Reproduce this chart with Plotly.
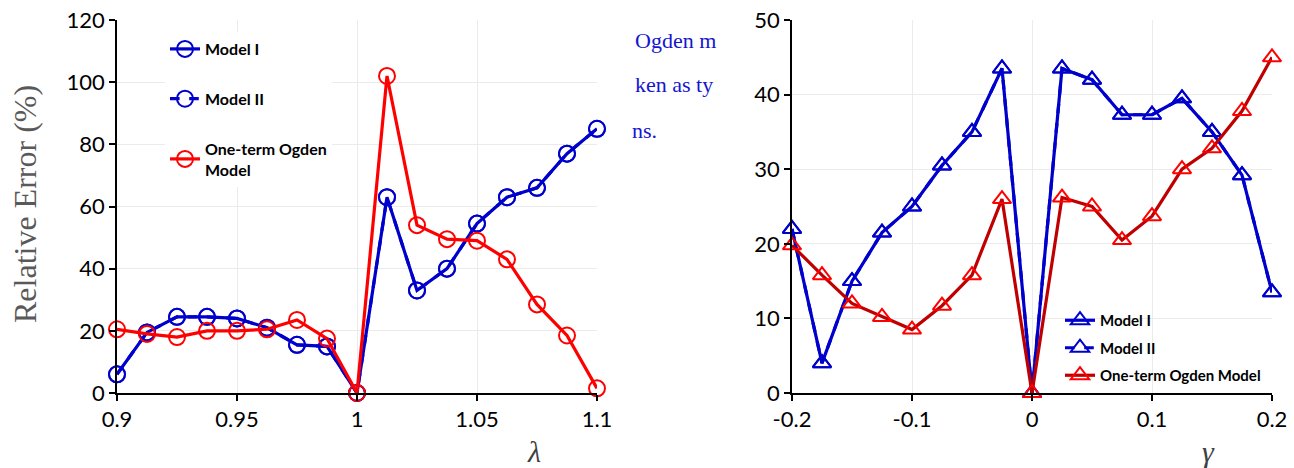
import plotly.graph_objects as go

# stretch ratio (left panel)
lam = [0.9, 0.9125, 0.925, 0.9375, 0.95, 0.9625, 0.975, 0.9875, 1.0,
       1.0125, 1.025, 1.0375, 1.05, 1.0625, 1.075, 1.0875, 1.1]
lam_model1 = [6, 19.5, 24.5, 24.5, 24, 21, 15.5, 15, 0,
              63, 33, 40, 54.5, 63, 66, 77, 85]
lam_model2 = [6, 19.5, 24.5, 24.5, 24, 21, 15.5, 15, 0,
              63, 33, 40, 54.5, 63, 66, 77, 85]
lam_ogden = [20.5, 19, 18, 20, 20, 20.5, 23.5, 17.5, 0,
             102, 54, 49.5, 49, 43, 28.5, 18.5, 1.5]

# shear amount (right panel)
gam = [-0.2, -0.175, -0.15, -0.125, -0.1, -0.075, -0.05, -0.025, 0.0,
       0.025, 0.05, 0.075, 0.1, 0.125, 0.15, 0.175, 0.2]
gam_model1 = [22, 4, 15, 21.5, 25, 30.5, 35, 43.5, 0,
              43.5, 42, 37.3, 37.3, 39.5, 35, 29.2, 13.5]
gam_model2 = [22, 4, 15, 21.5, 25, 30.5, 35, 43.5, 0,
              43.5, 42, 37.3, 37.3, 39.5, 35, 29.2, 13.5]
gam_ogden = [19.8, 15.8, 12, 10.2, 8.5, 11.7, 15.8, 26, 0,
             26.2, 25, 20.5, 23.7, 30, 32.8, 37.8, 45]

lam_ticks = [0.9, 0.95, 1, 1.05, 1.1]
lam_ticklabels = ["0.9", "0.95", "1", "1.05", "1.1"]
gam_ticks = [-0.2, -0.1, 0, 0.1, 0.2]
gam_ticklabels = ["-0.2", "-0.1", "0", "0.1", "0.2"]

BLUE = "#0000CC"
RED = "#FF0000"
DARKRED = "#C00000"
W, H = 1294, 468
ML, MR, MT, MB = 0, 0, 20, 75

fig = go.Figure()

def add(x, y, name, line_color, marker_color, symbol, dash, xa, ya, legend, rank, size):
    fig.add_trace(go.Scatter(
        x=x, y=y, name=name, mode="lines+markers",
        line=dict(color=line_color, width=3.2, dash=dash),
        marker=dict(symbol=symbol, size=size, color=marker_color,
                    line=dict(color=marker_color, width=2)),
        xaxis=xa, yaxis=ya, legend=legend, legendrank=rank,
        legendgroup=legend + name, cliponaxis=False,
    ))

# left panel
add(lam, lam_model2, "Model II", BLUE, BLUE, "circle-open", "dash", "x", "y", "legend", 2, 16)
add(lam, lam_model1, "Model I", BLUE, BLUE, "circle-open", "solid", "x", "y", "legend", 1, 16)
add(lam, lam_ogden, "One-term Ogden<br>Model", RED, RED, "circle-open", "solid", "x", "y", "legend", 3, 16)

# right panel
add(gam, gam_model2, "Model II", BLUE, BLUE, "triangle-up-open", "dash", "x2", "y2", "legend2", 2, 16)
add(gam, gam_model1, "Model I", BLUE, BLUE, "triangle-up-open", "solid", "x2", "y2", "legend2", 1, 16)
add(gam, gam_ogden, "One-term Ogden Model", DARKRED, RED, "triangle-up-open", "solid", "x2", "y2", "legend2", 3, 16)

tickfont = dict(family="Lato, Carlito, Calibri, sans-serif", size=22, color="black")
axis_common = dict(
    showline=True, linecolor="black", linewidth=1.5,
    ticks="outside", ticklen=6, tickcolor="black", tickwidth=1.5,
    showgrid=True, gridcolor="#EBEBEB", gridwidth=1,
    zeroline=False, tickfont=tickfont, automargin=False,
)

def px_x(p):
    return (p - ML) / (W - ML - MR)

def px_y(p):
    return 1 - (p - MT) / (H - MT - MB)

def legend_font(size):
    return dict(family="Lato, Carlito, Calibri, sans-serif", size=size,
                color="black", weight="bold")

fig.update_layout(
    width=W, height=H,
    margin=dict(l=ML, r=MR, t=MT, b=MB, autoexpand=False),
    paper_bgcolor="white", plot_bgcolor="white",
    xaxis=dict(domain=[px_x(117), px_x(597)], range=[0.9, 1.1],
               tickvals=lam_ticks, ticktext=lam_ticklabels, anchor="y", **axis_common),
    yaxis=dict(domain=[0, 1], range=[0, 120], tickvals=[0, 20, 40, 60, 80, 100, 120],
               anchor="x", **axis_common),
    xaxis2=dict(domain=[px_x(792), px_x(1272)], range=[-0.2, 0.2],
                tickvals=gam_ticks, ticktext=gam_ticklabels, anchor="y2", **axis_common),
    yaxis2=dict(domain=[0, 1], range=[0, 50], tickvals=[0, 10, 20, 30, 40, 50],
                anchor="x2", **axis_common),
    legend=dict(x=px_x(165), y=px_y(32), xanchor="left", yanchor="top",
                bgcolor="white", borderwidth=0, tracegroupgap=26, font=legend_font(16)),
    legend2=dict(x=px_x(1060), y=px_y(304), xanchor="left", yanchor="top",
                 bgcolor="rgba(0,0,0,0)", borderwidth=0, tracegroupgap=5, font=legend_font(15)),
    showlegend=True,
)

serif = "Liberation Serif, Times New Roman, serif"
annotations = [
    dict(text="Relative Error (%)", x=px_x(25), y=px_y(204), textangle=-90,
         font=dict(family=serif, size=32, color="#595959")),
    dict(text="<i>λ</i>", x=px_x(534), y=px_y(451),
         font=dict(family=serif, size=30, color="#404040")),
    dict(text="<i>γ</i>", x=px_x(1208), y=px_y(451),
         font=dict(family=serif, size=30, color="#404040")),
    dict(text="Ogden m", x=px_x(633), y=px_y(40), xanchor="left",
         font=dict(family=serif, size=22, color="#1515D0")),
    dict(text="ken as ty", x=px_x(633), y=px_y(84), xanchor="left",
         font=dict(family=serif, size=22, color="#1515D0")),
    dict(text="ns.", x=px_x(630), y=px_y(130), xanchor="left",
         font=dict(family=serif, size=22, color="#1515D0")),
]
for a in annotations:
    a.setdefault("xanchor", "center")
    a.update(xref="paper", yref="paper", showarrow=False, yanchor="middle")
fig.update_layout(annotations=annotations)

fig.write_html("out.html")
